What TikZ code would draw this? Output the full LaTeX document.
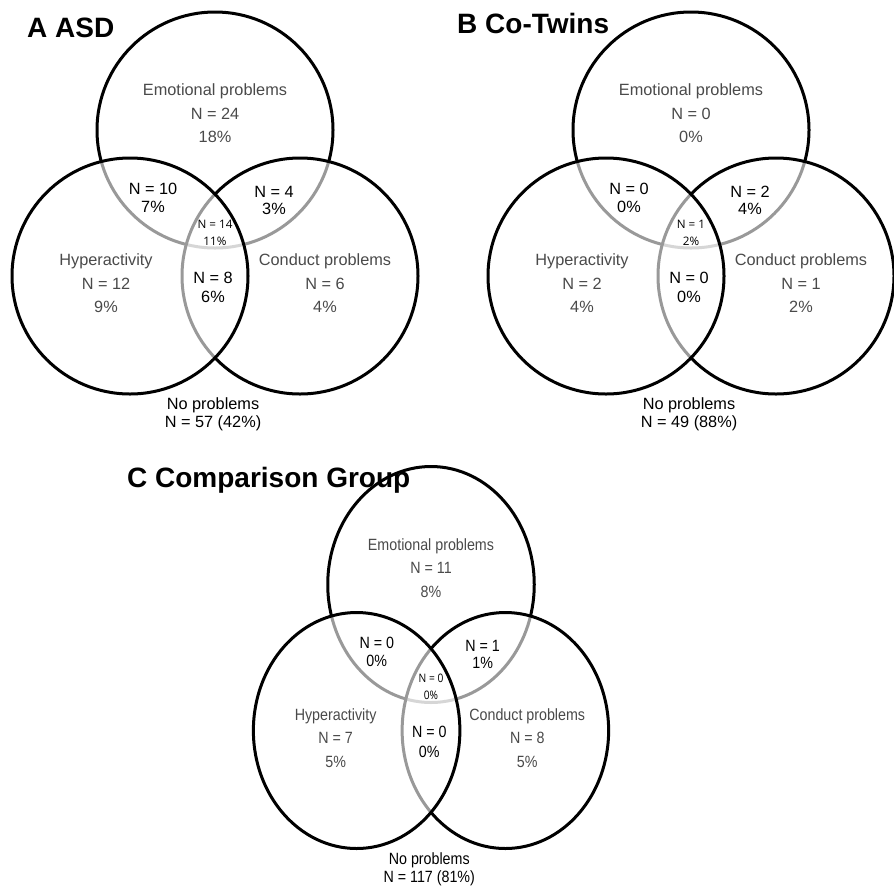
\documentclass[tikz,border=0pt]{standalone}
\usepackage{fontspec}
\setmainfont{Liberation Sans}
\newfontfamily\tinyfont{Open Sans}
\definecolor{lblgray}{HTML}{4A4A4A}
\tikzset{
  vc/.style={circle, draw=black, line width=3pt, minimum size=236pt, inner sep=0pt, outer sep=0pt},
  veil/.style={fill=white, fill opacity=0.6},
  glab/.style={anchor=base, inner sep=0pt, text=lblgray, font=\fontsize{16.3}{18}\selectfont},
  blab/.style={glab, text=black},
  slab/.style={anchor=base, inner sep=0pt, text=black, font=\tinyfont\fontsize{11.7}{13}\selectfont},
  ttl/.style={anchor=base west, inner sep=0pt, font=\bfseries\fontsize{28}{32}\selectfont},
}
\newcommand\VennCircles[1]{%
  \node[vc] (#1T) at (0,0) {};
  \node[vc, veil] (#1R) at (85,146) {};
  \node[vc, veil] (#1L) at (-85,146) {};
}
\begin{document}
\begin{tikzpicture}[x=1pt,y=-1pt]
\fill[white] (0,0) rectangle (894,887);
\useasboundingbox (0,0) rectangle (894,887);

% ---------- Panel A ----------
\begin{scope}[shift={(215,130)}]
  \VennCircles{a}
  \node[glab] (a-e1) at (0,-34.3) {Emotional problems};
  \node[glab] (a-e2) at (0,-10.7) {N = 24};
  \node[glab] (a-e3) at (0,12.7) {18\%};
  \node[blab] (a-tl1) at (-62,64.3) {N = 10};
  \node[blab] (a-tl2) at (-62,82) {7\%};
  \node[blab] (a-tr1) at (59,67.3) {N = 4};
  \node[blab] (a-tr2) at (59,84.3) {3\%};
  \node[slab] (a-c1) at (0,98.3) {N = 14};
  \node[slab] (a-c2) at (0,115) {11\%};
  \node[glab] (a-h1) at (-109,135.7) {Hyperactivity};
  \node[glab] (a-h2) at (-109,159.3) {N = 12};
  \node[glab] (a-h3) at (-109,182.7) {9\%};
  \node[blab] (a-m1) at (-2,153.3) {N = 8};
  \node[blab] (a-m2) at (-2,172.7) {6\%};
  \node[glab] (a-k1) at (110,135.7) {Conduct problems};
  \node[glab] (a-k2) at (110,159.3) {N = 6};
  \node[glab] (a-k3) at (110,182.7) {4\%};
  \node[blab] (a-n1) at (-2,279.5) {No problems};
  \node[blab] (a-n2) at (-2,297.7) {N = 57 (42\%)};
\end{scope}

% ---------- Panel B ----------
\begin{scope}[shift={(691,130)}]
  \VennCircles{b}
  \node[glab] (b-e1) at (0,-34.3) {Emotional problems};
  \node[glab] (b-e2) at (0,-10.7) {N = 0};
  \node[glab] (b-e3) at (0,12.7) {0\%};
  \node[blab] (b-tl1) at (-62,64.3) {N = 0};
  \node[blab] (b-tl2) at (-62,82) {0\%};
  \node[blab] (b-tr1) at (59,67.3) {N = 2};
  \node[blab] (b-tr2) at (59,84.3) {4\%};
  \node[slab] (b-c1) at (0,98.3) {N = 1};
  \node[slab] (b-c2) at (0,115) {2\%};
  \node[glab] (b-h1) at (-109,135.7) {Hyperactivity};
  \node[glab] (b-h2) at (-109,159.3) {N = 2};
  \node[glab] (b-h3) at (-109,182.7) {4\%};
  \node[blab] (b-m1) at (-2,153.3) {N = 0};
  \node[blab] (b-m2) at (-2,172.7) {0\%};
  \node[glab] (b-k1) at (110,135.7) {Conduct problems};
  \node[glab] (b-k2) at (110,159.3) {N = 1};
  \node[glab] (b-k3) at (110,182.7) {2\%};
  \node[blab] (b-n1) at (-2,279.5) {No problems};
  \node[blab] (b-n2) at (-2,297.7) {N = 49 (88\%)};
\end{scope}

% ---------- Panel C ----------
\begin{scope}[shift={(431,584.5)}, xscale=0.875, transform shape]
  \VennCircles{c}
  \node[glab] (c-e1) at (0,-34.3) {Emotional problems};
  \node[glab] (c-e2) at (0,-10.7) {N = 11};
  \node[glab] (c-e3) at (0,12.7) {8\%};
  \node[blab] (c-tl1) at (-62,64.3) {N = 0};
  \node[blab] (c-tl2) at (-62,82) {0\%};
  \node[blab] (c-tr1) at (59,67.3) {N = 1};
  \node[blab] (c-tr2) at (59,84.3) {1\%};
  \node[slab] (c-c1) at (0,98.3) {N = 0};
  \node[slab] (c-c2) at (0,115) {0\%};
  \node[glab] (c-h1) at (-109,135.7) {Hyperactivity};
  \node[glab] (c-h2) at (-109,159.3) {N = 7};
  \node[glab] (c-h3) at (-109,182.7) {5\%};
  \node[blab] (c-m1) at (-2,153.3) {N = 0};
  \node[blab] (c-m2) at (-2,172.7) {0\%};
  \node[glab] (c-k1) at (110,135.7) {Conduct problems};
  \node[glab] (c-k2) at (110,159.3) {N = 8};
  \node[glab] (c-k3) at (110,182.7) {5\%};
  \node[blab] (c-n1) at (-2,279.5) {No problems};
  \node[blab] (c-n2) at (-2,297.7) {N = 117 (81\%)};
\end{scope}

% ---------- Titles ----------
\node[ttl] (tA) at (27,37) {A ASD};
\node[ttl] (tB) at (457,33) {B Co-Twins};
\node[ttl] (tC) at (127,487) {C Comparison Group};
\end{tikzpicture}
\end{document}
